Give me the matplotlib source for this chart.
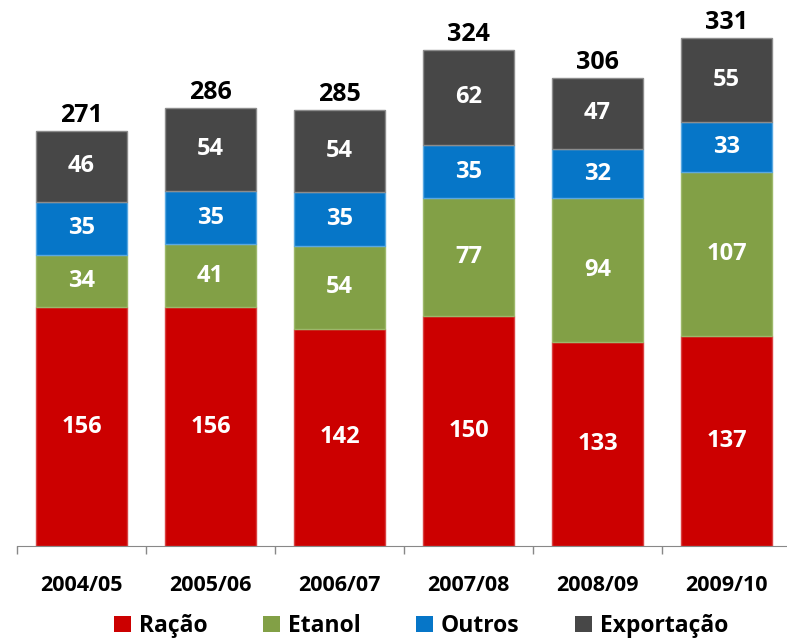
import matplotlib.pyplot as plt
from matplotlib.patches import Patch

plt.rcParams['font.family'] = ['Open Sans', 'DejaVu Sans']
plt.rcParams['font.weight'] = 'bold'

safras = ['2004/05', '2005/06', '2006/07', '2007/08', '2008/09', '2009/10']
racao = [156, 156, 142, 150, 133, 137]
etanol = [34, 41, 54, 77, 94, 107]
outros = [35, 35, 35, 35, 32, 33]
exportacao = [46, 54, 54, 62, 47, 55]
totais = [271, 286, 285, 324, 306, 331]

series = [
    ('Ração', racao, '#CC0000', '#D94040'),
    ('Etanol', etanol, '#82A046', '#9DB86A'),
    ('Outros', outros, '#0676C8', '#5AA8E0'),
    ('Exportação', exportacao, '#474747', '#8C8C8C'),
]

fig = plt.figure(figsize=(7.87, 6.42), dpi=100)
ax = fig.add_axes([17 / 787, 96 / 642, 774 / 787, 546 / 642])

x = list(range(len(safras)))
base = [0] * len(safras)
handles = []
for nome, vals, cor, borda in series:
    bars = ax.bar(x, vals, width=0.71, bottom=base, color=cor,
                  edgecolor=borda, linewidth=1.0)
    for b, v in zip(bars, vals):
        ax.text(b.get_x() + b.get_width() / 2, b.get_y() + b.get_height() / 2,
                str(v), ha='center', va='center', color='white',
                fontsize=17, fontweight='bold')
    base = [a + b for a, b in zip(base, vals)]
    handles.append(Patch(facecolor=cor, edgecolor='none', label=nome))

for i, t in enumerate(totais):
    ax.annotate(str(t), (i, base[i]), xytext=(0, 2), textcoords='offset points',
                ha='center', va='bottom', fontsize=18, fontweight='bold',
                color='black')

ax.set_xlim(-0.5, len(safras) - 0.5)
ax.set_ylim(0, 546 / 1.531)
ax.set_xticks(x)
ax.set_xticklabels(safras, fontsize=15.5, fontweight='bold')
ax.tick_params(axis='x', which='major', length=0, pad=21)
ax.set_xticks([i - 0.5 for i in range(len(safras) + 1)], minor=True)
ax.tick_params(axis='x', which='minor', length=6, color='#888888', width=1)
ax.set_yticks([])
for s in ['top', 'right', 'left']:
    ax.spines[s].set_visible(False)
ax.spines['bottom'].set_color('#888888')

fig.legend(handles=handles, loc='center', bbox_to_anchor=(0.535, 1 - 626 / 642),
           ncol=4, frameon=False, fontsize=16.5, handlelength=0.75, handleheight=0.75,
           handletextpad=0.35, columnspacing=2.4)

fig.savefig('out.png', dpi=100)
